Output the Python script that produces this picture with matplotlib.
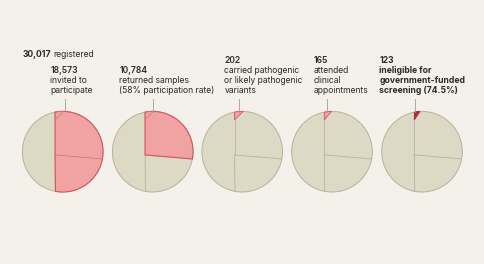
import numpy as np
import matplotlib
matplotlib.use("Agg")
import matplotlib.pyplot as plt
from matplotlib.patches import Polygon, Circle

plt.rcParams['font.family'] = ['Inter', 'DejaVu Sans']

# ---------------- data ----------------
total = 30017
total_label = "registered"
stage_values = [18573, 10784, 202, 165, 123]
stage_numbers = ["18,573", "10,784", "202", "165", "123"]
stage_texts = [
    ["invited to", "participate"],
    ["returned samples", "(58% participation rate)"],
    ["carried pathogenic", "or likely pathogenic", "variants"],
    ["attended", "clinical", "appointments"],
    ["ineligible for", "government-funded", "screening (74.5%)"],
]

# ---------------- style / layout ----------------
BG = "#f4f1ea"
BEIGE = "#dcd9c4"
EDGE = "#b5b29f"
RED = "#f1a3a4"
RED_EDGE = "#d6535d"
DARK = "#b3303b"
TXT = "#2a2a2a"
LEAD = "#9d9d9d"

cx_list = [62.7, 152.7, 242.2, 332.0, 422.0]
cy = 151.7
R = 40.3
px, py = -0.19, -0.08        # pie origin offset (unit radius, y up)
q_drop = 0.19                # vertex drop for small wedges
label_x = [50.3, 119.3, 224.3, 313.3, 379.3]
leader_x = [65.3, 153.3, 239.0, 326.7, 415.0]
total_x, total_label_x, total_y = 23.0, 53.0, 57.3

fig = plt.figure(figsize=(4.85, 2.64), dpi=100, facecolor=BG)
ax = fig.add_axes([0, 0, 1, 1])
ax.set_xlim(0, 485)
ax.set_ylim(264, 0)
ax.axis("off")
ax.set_facecolor(BG)

yT = np.sqrt(1 - px ** 2)
a_top = np.arctan2(yT, px)


def region(vx, vy, frac):
    """Polygon (unit coords, y up) from vertex, clockwise arc from top ray,
    whose area equals frac of the disc."""
    target = frac * np.pi

    def poly(sweep):
        ang = np.linspace(a_top, a_top - sweep, 400)
        xs = np.concatenate([[vx], np.cos(ang)])
        ys = np.concatenate([[vy], np.sin(ang)])
        return xs, ys

    def area(sweep):
        xs, ys = poly(sweep)
        return 0.5 * abs(np.dot(xs, np.roll(ys, -1)) - np.dot(ys, np.roll(xs, -1)))

    lo, hi = 0.0, 2 * np.pi
    for _ in range(60):
        mid = 0.5 * (lo + hi)
        if area(mid) < target:
            lo = mid
        else:
            hi = mid
    return poly(lo)


def to_img(cx, xs, ys):
    return np.column_stack([cx + R * np.asarray(xs), cy - R * np.asarray(ys)])


regA = region(px, py, stage_values[0] / total)
regB = region(px, py, stage_values[1] / total)
small = [region(px, yT - q_drop, v / total) for v in stage_values[2:]]
endA = (regA[0][-1], regA[1][-1])
endB = (regB[0][-1], regB[1][-1])

for i, cx in enumerate(cx_list):
    ax.add_patch(Circle((cx, cy), R, facecolor=BEIGE, edgecolor=EDGE, lw=0.7, zorder=1))
    # grey structure lines
    for (ex, ey) in [(px, yT), endA, endB]:
        pts = to_img(cx, [px, ex], [py, ey])
        ax.plot(pts[:, 0], pts[:, 1], color=EDGE, lw=0.6, zorder=2)
    if i == 0:
        ax.add_patch(Polygon(to_img(cx, *regA), closed=True, facecolor=RED,
                             edgecolor=RED_EDGE, lw=0.8, zorder=3))
        pts = to_img(cx, [px, endB[0]], [py, endB[1]])
        ax.plot(pts[:, 0], pts[:, 1], color="#c9707a", lw=0.5, zorder=4)
        ax.add_patch(Polygon(to_img(cx, *small[0]), closed=True, facecolor="none",
                             edgecolor="#d9707a", lw=0.5, zorder=4))
    elif i == 1:
        ax.add_patch(Polygon(to_img(cx, *regB), closed=True, facecolor=RED,
                             edgecolor=RED_EDGE, lw=0.8, zorder=3))
        ax.add_patch(Polygon(to_img(cx, *small[0]), closed=True, facecolor="none",
                             edgecolor="#d9707a", lw=0.5, zorder=4))
    elif i in (2, 3):
        ax.add_patch(Polygon(to_img(cx, *small[i - 2]), closed=True, facecolor=RED,
                             edgecolor=RED_EDGE, lw=0.6, zorder=3))
    else:
        ax.add_patch(Polygon(to_img(cx, *small[1]), closed=True, facecolor="#e9c3bf",
                             edgecolor="#e6a5a6", lw=0.4, zorder=3))
        ax.add_patch(Polygon(to_img(cx, *small[2]), closed=True, facecolor=DARK,
                             edgecolor="#9a2530", lw=0.6, zorder=4))
    # leader line
    lx = leader_x[i]
    ytop_circle = cy - np.sqrt(R ** 2 - (lx - cx) ** 2)
    ax.plot([lx, lx], [98.5, ytop_circle], color=LEAD, lw=0.6, zorder=5)

FS = 6.2
LINE = 10.0
BASE_LAST = 93.3

# top-level total
ax.text(total_x, total_y, f"{total:,}", fontsize=FS, fontweight="bold", color=TXT, va="baseline")
ax.text(total_label_x, total_y, total_label, fontsize=FS, color=TXT, va="baseline")

for i in range(5):
    lines = [stage_numbers[i]] + stage_texts[i]
    n = len(lines)
    bold_all = (i == 4)
    for j, s in enumerate(lines):
        yb = BASE_LAST - (n - 1 - j) * LINE
        if bold_all:
            w = "bold"
        elif j == 0:
            w = "semibold"
        else:
            w = "normal"
        ax.text(label_x[i], yb, s, fontsize=FS, fontweight=w, color=TXT, va="baseline")

fig.savefig("out.png", dpi=100, facecolor=BG)
